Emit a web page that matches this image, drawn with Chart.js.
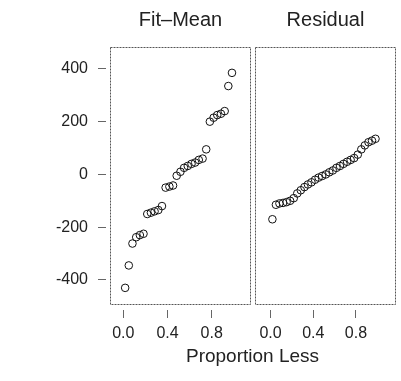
<!DOCTYPE html>
<html>
<head>
<meta charset="utf-8">
<script src="https://cdn.jsdelivr.net/npm/chart.js@4/dist/chart.umd.min.js"></script>
<style>
  body { margin: 0; background: #fff; width: 401px; height: 381px; overflow: hidden; position: relative; }
  canvas { position: absolute; top: 0; }
  #xlabel { position: absolute; left: 0; width: 505px; top: 345px; text-align: center;
            font: 19px "Liberation Sans", Arial, sans-serif; color: #222; }
</style>
</head>
<body>
<canvas id="fit" width="256" height="381" style="left:0"></canvas>
<canvas id="res" width="151" height="381" style="left:250px"></canvas>
<div id="xlabel">Proportion Less</div>
<script>
// f-values (proportion less) for the 30 sorted observations
var proportion = [0.017, 0.050, 0.083, 0.117, 0.150, 0.183, 0.217, 0.250, 0.283, 0.317,
                  0.350, 0.383, 0.417, 0.450, 0.483, 0.517, 0.550, 0.583, 0.617, 0.650,
                  0.683, 0.717, 0.750, 0.783, 0.817, 0.850, 0.883, 0.917, 0.950, 0.983];
var fitMean = [-430, -345, -262, -238, -230, -225, -150, -145, -140, -135,
               -120, -50, -46, -42, -5, 10, 25, 32, 40, 45,
               55, 60, 95, 200, 215, 225, 230, 240, 335, 385];
var residual = [-170, -115, -110, -108, -105, -100, -90, -72, -60, -48,
                -38, -30, -20, -12, -6, 0, 8, 15, 25, 32,
                40, 48, 55, 62, 75, 95, 110, 122, 128, 135];
var xTicks = [0, 0.4, 0.8];
var yTicks = [-400, -200, 0, 200, 400];

var font = "'Liberation Sans', Arial, sans-serif";
var ink = "#222";

function pts(ys) {
  return proportion.map(function (p, i) { return { x: p, y: ys[i] }; });
}

// dotted frame round each panel
var panelBox = {
  id: "panelBox",
  afterDraw: function (chart) {
    var a = chart.chartArea, ctx = chart.ctx;
    ctx.save();
    ctx.strokeStyle = "#555";
    ctx.lineWidth = 1;
    ctx.setLineDash([2, 1]);
    ctx.strokeRect(a.left + 0.5, a.top + 0.5, a.right - a.left - 1, a.bottom - a.top - 1);
    ctx.restore();
  }
};

function makeChart(id, title, values, xMin, xMax, showY, pad) {
  return new Chart(document.getElementById(id), {
    type: "scatter",
    data: {
      datasets: [{
        data: pts(values),
        pointStyle: "circle",
        pointRadius: 3.8,
        borderColor: "#111",
        backgroundColor: "rgba(255,255,255,0)",
        borderWidth: 1
      }]
    },
    options: {
      responsive: false,
      animation: false,
      devicePixelRatio: 1,
      layout: { padding: pad },
      plugins: {
        legend: { display: false },
        tooltip: { enabled: false },
        title: {
          display: true,
          text: title,
          fullSize: false,
          color: ink,
          font: { family: font, size: 20, weight: "normal" },
          padding: { top: 8, bottom: 15 }
        }
      },
      scales: {
        x: {
          type: "linear",
          min: xMin,
          max: xMax,
          afterBuildTicks: function (s) { s.ticks = xTicks.map(function (v) { return { value: v }; }); },
          afterFit: function (s) { s.height = 76; },
          border: { display: false },
          grid: { drawOnChartArea: false, drawTicks: true, tickLength: 13, color: "#666",
                  tickBorderDash: [0, 5, 8, 100] },
          ticks: { color: ink, padding: 6, maxRotation: 0, font: { family: font, size: 16 },
                   callback: function (v) { return v.toFixed(1); } }
        },
        y: {
          type: "linear",
          display: showY,
          min: -495,
          max: 483,
          afterBuildTicks: function (s) { s.ticks = yTicks.map(function (v) { return { value: v }; }); },
          afterFit: function (s) { s.width = showY ? 110 : 0; },
          border: { display: false },
          grid: { drawOnChartArea: false, drawTicks: true, tickLength: 12, color: "#666",
                  tickBorderDash: [8, 100] },
          ticks: { color: ink, padding: 10, font: { family: font, size: 16 } }
        }
      }
    },
    plugins: [panelBox]
  });
}

makeChart("fit", "Fit\u2013Mean", fitMean, -0.12, 1.155, true, { left: 0, right: 2, top: 0, bottom: 0 });
makeChart("res", "Residual", residual, -0.146, 1.175, false, { left: 2, right: 3, top: 0, bottom: 0 });
</script>
</body>
</html>
